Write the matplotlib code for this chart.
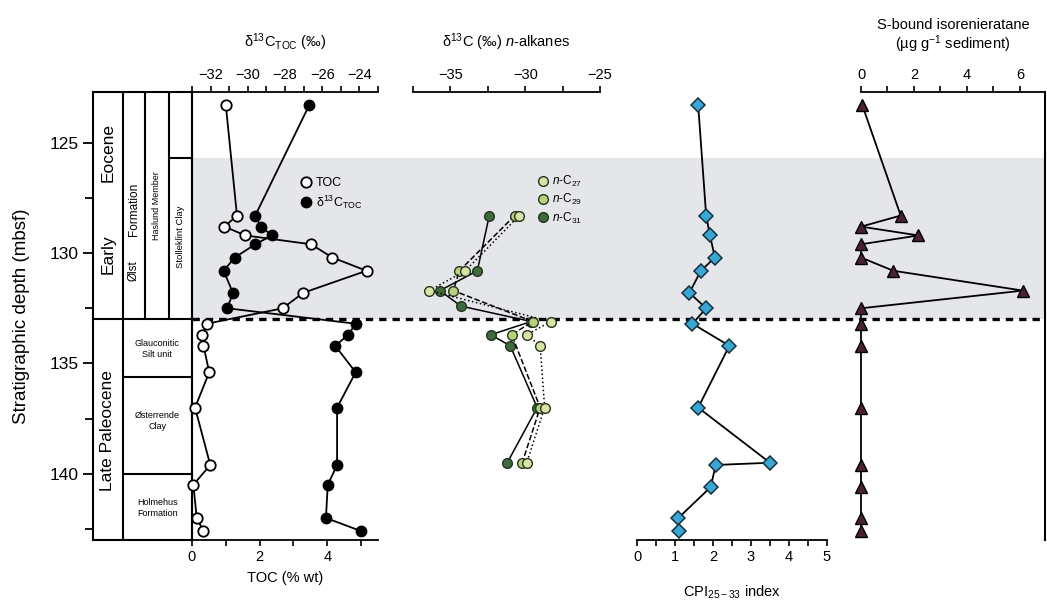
import matplotlib.pyplot as plt
from matplotlib.lines import Line2D
from matplotlib.ticker import MultipleLocator

plt.rcParams['font.family'] = ['Liberation Sans', 'DejaVu Sans']
plt.rcParams['mathtext.fontset'] = 'custom'
plt.rcParams['mathtext.rm'] = 'Liberation Sans'
plt.rcParams['mathtext.it'] = 'Liberation Sans:italic'

# --- data ---
depth = [123.3, 128.3, 128.8, 129.2, 129.6, 130.2, 130.8, 131.8, 132.5,
         133.2, 133.7, 134.2, 135.4, 137.0, 139.6, 140.5, 142.0, 142.6]
toc = [1.00, 1.33, 0.96, 1.58, 3.52, 4.15, 5.16, 3.29, 2.68,
       0.44, 0.31, 0.34, 0.51, 0.09, 0.54, 0.04, 0.14, 0.34]
d13c_toc = [-26.7, -29.6, -29.3, -28.7, -29.6, -30.7, -31.3, -30.8, -31.1,
            -24.2, -24.6, -25.3, -24.2, -25.2, -25.2, -25.7, -25.8, -23.9]

c27_depth = [128.3, 130.8, 131.7, 133.1, 133.7, 134.2, 137.0, 139.5]
c27 = [-30.4, -34.0, -36.4, -28.3, -29.9, -29.0, -28.7, -29.9]
c29_depth = [128.3, 130.8, 131.7, 133.1, 133.7, 137.0, 139.5]
c29 = [-30.7, -34.4, -34.8, -29.5, -30.9, -29.0, -30.2]
c31_depth = [128.3, 130.8, 131.7, 132.4, 133.1, 133.7, 134.2, 137.0, 139.5]
c31 = [-32.4, -33.2, -35.7, -34.3, -29.6, -32.3, -31.0, -29.2, -31.2]

cpi_depth = [123.3, 128.3, 129.2, 130.2, 130.8, 131.8, 132.5, 133.2,
             134.2, 137.0, 139.5, 139.6, 140.6, 142.0, 142.6]
cpi = [1.61, 1.82, 1.92, 2.05, 1.68, 1.38, 1.82, 1.46,
       2.43, 1.61, 3.50, 2.07, 1.94, 1.09, 1.11]

iso_depth = [123.3, 128.3, 128.8, 129.2, 129.6, 130.2, 130.8, 131.7,
             132.5, 133.2, 134.2, 137.0, 139.6, 140.6, 142.0, 142.6]
iso = [0.05, 1.5, 0.0, 2.17, 0.0, 0.0, 1.22, 6.12,
       0.0, 0.0, 0.0, 0.0, 0.0, 0.0, 0.0, 0.0]

# stratigraphic boundaries (mbsf)
petm_top = 125.7
boundary = 133.0
lower_units = [135.6, 140.0]

W, H = 1047, 601
fig = plt.figure(figsize=(W / 100, H / 100), dpi=100)


def box(x0, x1, y0=92, y1=540):
    return [x0 / W, 1 - y1 / H, (x1 - x0) / W, (y1 - y0) / H]


ylim = (143.0, 122.7)
lw = 1.3

# background: shading + dashed boundary across all panels
bg = fig.add_axes(box(192, 1045))
bg.set_ylim(*ylim)
bg.set_xlim(0, 1)
bg.axhspan(petm_top, boundary, color='#e4e6ea', lw=0)
bg.axhline(boundary, color='black', lw=2.4, ls=(0, (2.2, 1.8)))
bg.axis('off')

# stratigraphy column
sa = fig.add_axes(box(93, 192))
sa.set_xlim(0, 1)
sa.set_ylim(*ylim)
sa.set_xticks([])
sa.yaxis.set_major_locator(MultipleLocator(5))
sa.yaxis.set_minor_locator(MultipleLocator(2.5))
sa.tick_params(axis='y', which='major', length=7, width=1.3, labelsize=12.5)
sa.tick_params(axis='y', which='minor', length=6, width=1.3)
sa.set_ylabel('Stratigraphic depth (mbsf)', fontsize=13.5, labelpad=14)
for s in sa.spines.values():
    s.set_linewidth(1.5)
cols = [0.303, 0.525, 0.768]
sa.plot([0, 1], [boundary, boundary], 'k', lw=1.5)
for xc in cols:
    sa.plot([xc, xc], [ylim[1], boundary], 'k', lw=1.5)
sa.plot([cols[0], cols[0]], [boundary, ylim[0]], 'k', lw=1.5)
sa.plot([cols[2], 1], [petm_top, petm_top], 'k', lw=1.5)
for b in lower_units:
    sa.plot([cols[0], 1], [b, b], 'k', lw=1.5)
rot = [('Eocene', 0.151, 125.45, 12.5), ('Early', 0.151, 130.03, 12.5),
       ('Formation', 0.414, 128.0, 8.5), ('Ølst', 0.414, 130.8, 8.5),
       ('Haslund Member', 0.646, 127.85, 6.5), ('Stolleklint Clay', 0.884, 129.26, 6.8),
       ('Late Paleocene', 0.151, 138.05, 12.5)]
for t, x, y, fs in rot:
    sa.text(x, y, t, rotation=90, ha='center', va='center', fontsize=fs)
hor = [('Glauconitic\nSilt unit', 0.65, 134.33), ('Østerrende\nClay', 0.65, 137.6),
       ('Holmehus\nFormation', 0.65, 141.54)]
for t, x, y in hor:
    sa.text(x, y, t, ha='center', va='center', fontsize=6.5, linespacing=1.3)

# panel 1: TOC and d13C TOC
ax1 = fig.add_axes(box(192, 378))
ax1.patch.set_alpha(0)
ax1.set_ylim(*ylim)
ax1.set_xlim(0, 5.5)
ax1.plot(toc, depth, '-o', color='black', lw=lw, mfc='white', mec='black',
         ms=7.5, mew=1.3, clip_on=False, zorder=4)
ax1.spines['top'].set_visible(False)
ax1.spines['right'].set_visible(False)
ax1.spines['left'].set_linewidth(1.5)
ax1.spines['bottom'].set_linewidth(1.3)
ax1.tick_params(left=False, labelleft=False)
ax1.xaxis.set_major_locator(MultipleLocator(2))
ax1.xaxis.set_minor_locator(MultipleLocator(1))
ax1.tick_params(axis='x', which='both', length=4, width=1.2, labelsize=10.5, pad=3)
ax1.set_xlabel('TOC (% wt)', fontsize=10.5, labelpad=5)

ax1t = ax1.twiny()
ax1t.set_xlim(-33, -23)
ax1t.set_ylim(*ylim)
ax1t.plot(d13c_toc, depth, '-o', color='black', lw=lw, mfc='black', mec='black',
          ms=7.5, clip_on=False, zorder=3)
for k in ['bottom', 'left', 'right']:
    ax1t.spines[k].set_visible(False)
ax1t.spines['top'].set_linewidth(1.3)
ax1t.xaxis.set_major_locator(MultipleLocator(2))
ax1t.xaxis.set_minor_locator(MultipleLocator(1))
ax1t.tick_params(axis='x', which='both', length=4, width=1.2, labelsize=10.5, pad=3)
ax1t.set_xlabel('δ$^{13}$C$_{\\rm TOC}$ (‰)', fontsize=10.5, labelpad=15)
h1 = [Line2D([], [], ls='none', marker='o', mfc='white', mec='black', ms=7.5, mew=1.3),
      Line2D([], [], ls='none', marker='o', mfc='black', mec='black', ms=7.5)]
ax1t.legend(h1, ['TOC', 'δ$^{13}$C$_{\\rm TOC}$'], loc='upper left',
            bbox_to_anchor=(0.51, 0.835), frameon=False, fontsize=9,
            handletextpad=0.2, labelspacing=0.35, handlelength=1.2)

# panel 2: n-alkane d13C
ax2 = fig.add_axes(box(413, 600))
ax2.patch.set_alpha(0)
ax2.set_ylim(*ylim)
ax2.set_xlim(-37.5, -25)
alk = [(c31_depth, c31, '#3d6b3e', '-', '$n$-C$_{31}$'),
       (c29_depth, c29, '#b6d27a', '--', '$n$-C$_{29}$'),
       (c27_depth, c27, '#d7e4a4', ':', '$n$-C$_{27}$')]
for dd, vv, col, ls, lab in alk:
    ax2.plot(vv, dd, color='black', ls=ls, lw=1.1, marker='o', mfc=col,
             mec='#26331e', ms=7, mew=1.0, clip_on=False)
for k in ['bottom', 'left', 'right']:
    ax2.spines[k].set_visible(False)
ax2.spines['top'].set_linewidth(1.3)
ax2.xaxis.tick_top()
ax2.xaxis.set_label_position('top')
ax2.tick_params(left=False, labelleft=False)
ax2.xaxis.set_major_locator(MultipleLocator(5))
ax2.xaxis.set_minor_locator(MultipleLocator(2.5))
ax2.tick_params(axis='x', which='both', length=4, width=1.2, labelsize=10.5, pad=3)
ax2.set_xlabel('δ$^{13}$C (‰) $n$-alkanes', fontsize=10.5, labelpad=15)
h2 = [Line2D([], [], ls='none', marker='o', mfc=c, mec='#26331e', ms=7) for _, _, c, _, _ in alk[::-1]]
ax2.legend(h2, [a[4] for a in alk[::-1]], loc='upper left',
           bbox_to_anchor=(0.6, 0.84), frameon=False, fontsize=8.5,
           handletextpad=0.2, labelspacing=0.25, handlelength=1.2)

# panel 3: CPI
ax3 = fig.add_axes(box(637, 827))
ax3.patch.set_alpha(0)
ax3.set_ylim(*ylim)
ax3.set_xlim(0, 5)
ax3.plot(cpi, cpi_depth, '-D', color='black', lw=lw, mfc='#38a7d3', mec='#18303f',
         ms=7, mew=1.1, clip_on=False)
for k in ['top', 'left', 'right']:
    ax3.spines[k].set_visible(False)
ax3.spines['bottom'].set_linewidth(1.3)
ax3.tick_params(left=False, labelleft=False)
ax3.xaxis.set_major_locator(MultipleLocator(1))
ax3.xaxis.set_minor_locator(MultipleLocator(0.5))
ax3.tick_params(axis='x', which='both', length=4, width=1.2, labelsize=10.5, pad=3)
ax3.set_xlabel('CPI$_{25-33}$ index', fontsize=10.5, labelpad=14)

# panel 4: S-bound isorenieratane
ax4 = fig.add_axes(box(861, 1045))
ax4.patch.set_alpha(0)
ax4.set_ylim(*ylim)
ax4.set_xlim(0, 6.95)
ax4.plot(iso, iso_depth, '-^', color='black', lw=lw, mfc='#4a2232', mec='black',
         ms=8, mew=1.0, clip_on=False)
for k in ['bottom', 'left']:
    ax4.spines[k].set_visible(False)
ax4.spines['top'].set_linewidth(1.3)
ax4.spines['right'].set_linewidth(1.5)
ax4.xaxis.tick_top()
ax4.xaxis.set_label_position('top')
ax4.tick_params(left=False, labelleft=False, right=False)
ax4.xaxis.set_major_locator(MultipleLocator(2))
ax4.xaxis.set_minor_locator(MultipleLocator(1))
ax4.tick_params(axis='x', which='both', length=4, width=1.2, labelsize=10.5, pad=3)
ax4.set_xlabel('S-bound isorenieratane\n(µg g$^{-1}$ sediment)', fontsize=10.5,
               labelpad=14, linespacing=1.1)

fig.savefig('out.png', dpi=100)
